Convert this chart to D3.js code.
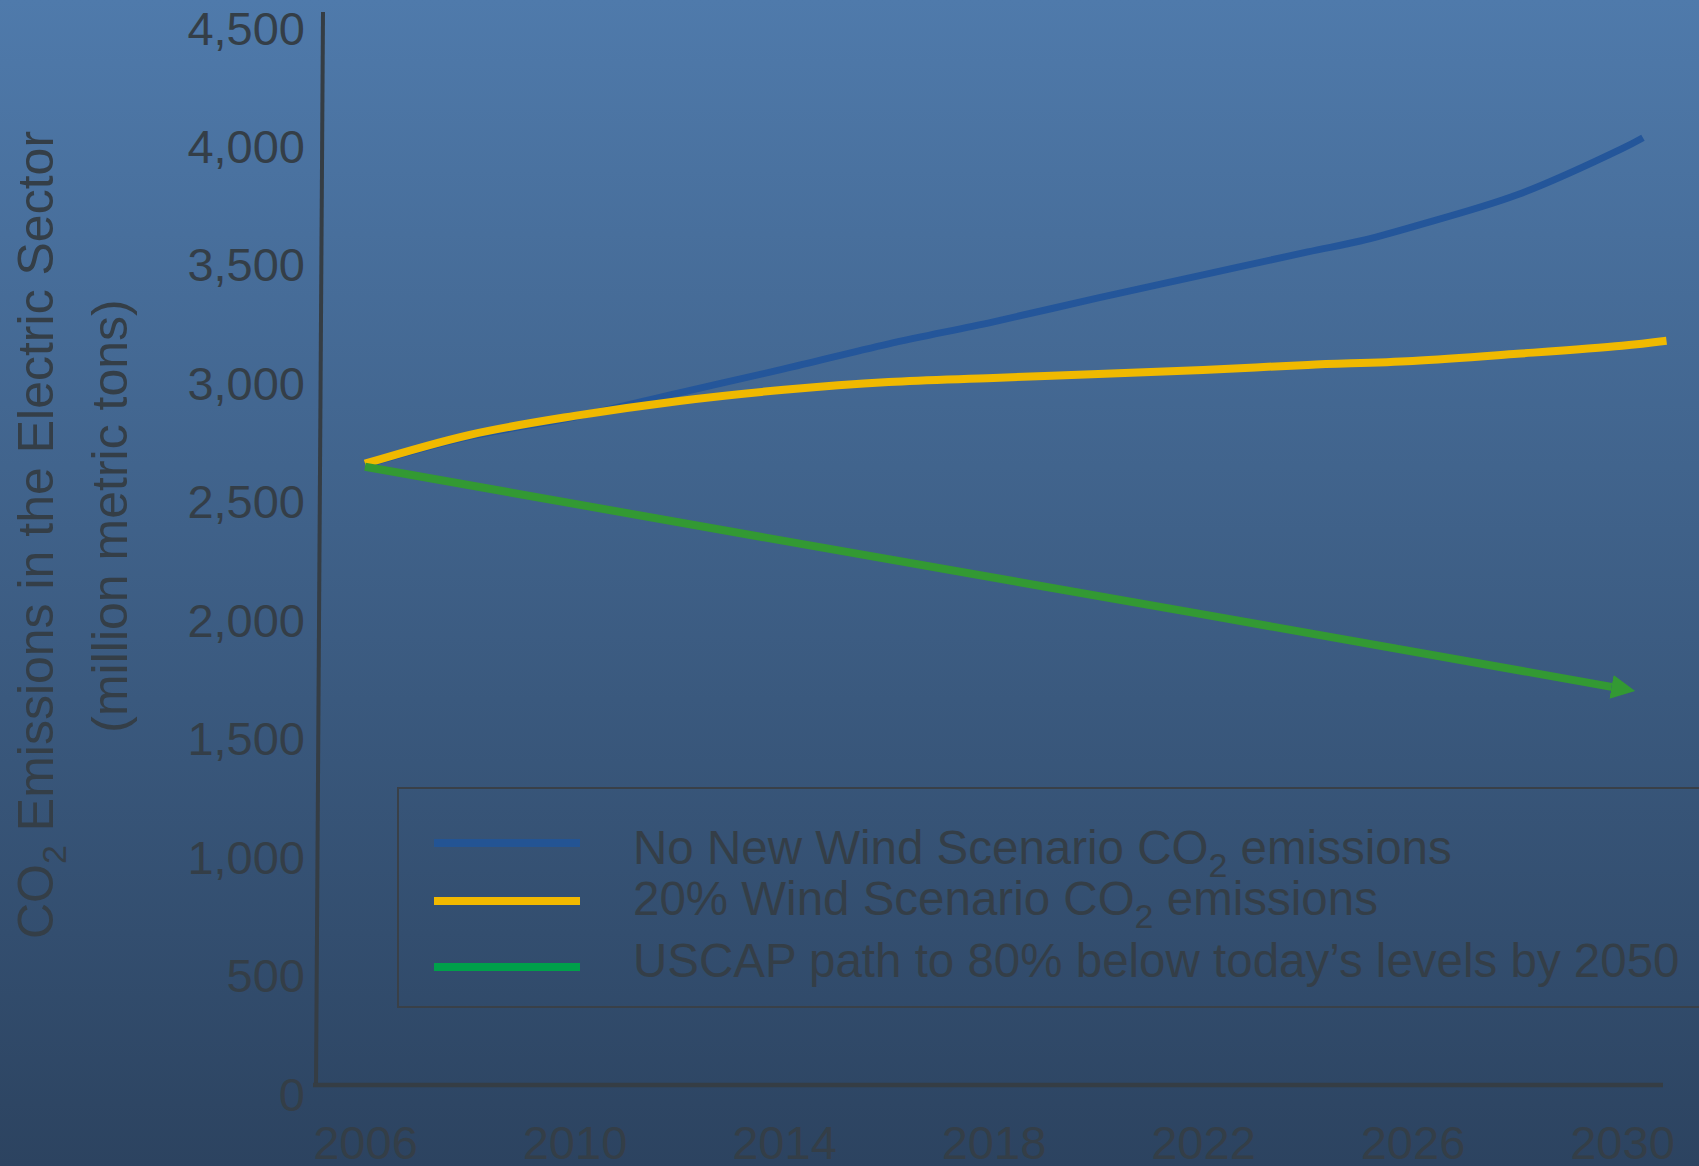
<!DOCTYPE html>
<html>
<head>
<meta charset="utf-8">
<script src="https://cdn.jsdelivr.net/npm/d3@7"></script>
<style>
  html, body { margin: 0; padding: 0; background: #2c4460; }
  svg { display: block; }
  text { font-family: "Liberation Sans", Arial, Helvetica, sans-serif; fill: #343e47; }
</style>
</head>
<body>
<svg id="chart" width="1699" height="1166"></svg>
<script>
// Electric-sector CO2 emissions, million metric tons
const yearTicks = [2006, 2010, 2014, 2018, 2022, 2026, 2030];
const valueTicks = [0, 500, 1000, 1500, 2000, 2500, 3000, 3500, 4000, 4500];

const noWindYears  = [2006, 2008, 2010, 2012, 2014, 2016, 2018, 2020, 2022, 2024, 2025, 2026, 2028, 2030, 2030.4];
const noWindValues = [2660, 2780, 2862, 2964, 3065, 3171, 3264, 3365, 3462, 3559, 3605, 3665, 3800, 3995, 4041];

const windYears  = [2006, 2008, 2010, 2012, 2014, 2016, 2018, 2020, 2022, 2024, 2026, 2028, 2030, 2030.85];
const windValues = [2665, 2787, 2867, 2930, 2977, 3010, 3027, 3044, 3061, 3082, 3099, 3129, 3163, 3184];

const uscapYears  = [2006, 2014, 2022, 2029.8];
const uscapValues = [2652, 2339, 2029, 1723];

const seriesNames = [
  ["No New Wind Scenario CO", "2", " emissions"],
  ["20% Wind Scenario CO", "2", " emissions"],
  ["USCAP path to 80% below today\u2019s levels by 2050", "", ""]
];
const lineColors   = ["#24569a", "#f0b900", "#339933"];
const legendColors = ["#235494", "#f2b900", "#00a04a"];

const W = 1699, H = 1166;
const svg = d3.select("#chart");

// page background gradient
const defs = svg.append("defs");
const grad = defs.append("linearGradient").attr("id", "bg")
  .attr("x1", 0).attr("y1", 0).attr("x2", 0).attr("y2", 1);
grad.append("stop").attr("offset", "0%").attr("stop-color", "#4f7aab");
grad.append("stop").attr("offset", "100%").attr("stop-color", "#2c4360");
svg.append("rect").attr("width", W).attr("height", H).attr("fill", "url(#bg)");

defs.append("marker").attr("id", "arrow")
  .attr("viewBox", "0 -12 24 24")
  .attr("refX", 0).attr("refY", 0)
  .attr("markerWidth", 24).attr("markerHeight", 24)
  .attr("markerUnits", "userSpaceOnUse")
  .attr("orient", "auto")
  .append("path").attr("d", "M0,-12L24,0L0,12Z").attr("fill", lineColors[2]);

const x = d3.scaleLinear().domain([2006, 2030]).range([365, 1622]);
const y = d3.scaleLinear().domain([0, 4500]).range([1095, 29]);

// axis frame
const axisColor = "#353d44";
svg.append("path")
  .attr("d", "M323,12L316,1085")
  .attr("stroke", axisColor).attr("stroke-width", 4).attr("fill", "none");
svg.append("path")
  .attr("d", "M313,1085L1663,1085")
  .attr("stroke", axisColor).attr("stroke-width", 4.5).attr("fill", "none");

// value labels
const yAxis = svg.append("g").attr("transform", "translate(305,0)")
  .call(d3.axisLeft(y).tickValues(valueTicks).tickSize(0).tickPadding(0).tickFormat(d3.format(",")));
yAxis.select(".domain").remove();
yAxis.attr("font-size", null).attr("font-family", null);
yAxis.selectAll("text").attr("font-size", 47).attr("fill", "#343e47");

// year labels
const xAxis = svg.append("g").attr("transform", "translate(0,1085)")
  .call(d3.axisBottom(x).tickValues(yearTicks).tickSize(0).tickPadding(41).tickFormat(d3.format("d")));
xAxis.select(".domain").remove();
xAxis.attr("font-size", null).attr("font-family", null);
xAxis.selectAll("text").attr("font-size", 47).attr("fill", "#343e47");

// axis title
const t1 = svg.append("text")
  .attr("transform", "translate(53,535) rotate(-90)")
  .attr("text-anchor", "middle").attr("font-size", 50);
t1.append("tspan").text("CO");
t1.append("tspan").attr("font-size", 34).attr("dy", 13).text("2");
t1.append("tspan").attr("dy", -13).text(" Emissions in the Electric Sector");

svg.append("text")
  .attr("transform", "translate(127,516) rotate(-90)")
  .attr("text-anchor", "middle").attr("font-size", 50)
  .text("(million metric tons)");

// series lines
const zip = (xs, vs) => xs.map((d, i) => [d, vs[i]]);
const smooth = d3.line().x(d => x(d[0])).y(d => y(d[1])).curve(d3.curveCatmullRom.alpha(0.5));
const straight = d3.line().x(d => x(d[0])).y(d => y(d[1]));

svg.append("path").datum(zip(noWindYears, noWindValues))
  .attr("d", smooth).attr("fill", "none")
  .attr("stroke", lineColors[0]).attr("stroke-width", 7);

svg.append("path").datum(zip(windYears, windValues))
  .attr("d", smooth).attr("fill", "none")
  .attr("stroke", lineColors[1]).attr("stroke-width", 8);

svg.append("path").datum(zip(uscapYears, uscapValues))
  .attr("d", straight).attr("fill", "none")
  .attr("stroke", lineColors[2]).attr("stroke-width", 8)
  .attr("marker-end", "url(#arrow)");

// legend
const legend = svg.append("g");
legend.append("rect")
  .attr("x", 398).attr("y", 788).attr("width", 1400).attr("height", 219)
  .attr("fill", "none").attr("stroke", "#394048").attr("stroke-width", 2);

const swatchY = [843, 901, 967];
const textY = [864, 915, 977];
seriesNames.forEach((parts, i) => {
  legend.append("line")
    .attr("x1", 434).attr("x2", 580).attr("y1", swatchY[i]).attr("y2", swatchY[i])
    .attr("stroke", legendColors[i]).attr("stroke-width", 8);
  const t = legend.append("text").attr("x", 633).attr("y", textY[i]).attr("font-size", 47.5);
  t.append("tspan").text(parts[0]);
  if (parts[1]) {
    t.append("tspan").attr("font-size", 34).attr("dy", 13).text(parts[1]);
    t.append("tspan").attr("dy", -13).text(parts[2]);
  }
});
</script>
</body>
</html>
